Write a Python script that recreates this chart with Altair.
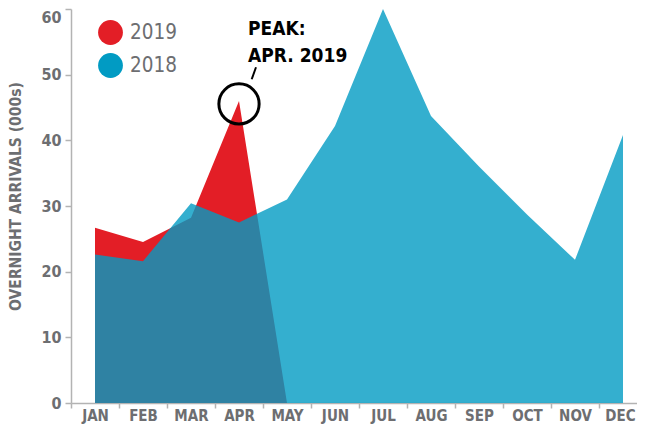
import altair as alt
import pandas as pd

# ---- data ----
months = ["JAN", "FEB", "MAR", "APR", "MAY", "JUN", "JUL", "AUG", "SEP", "OCT", "NOV", "DEC"]
arrivals_2018 = [22.6, 21.6, 30.4, 27.5, 31.0, 42.2, 60.0, 43.7, 36.0, 28.7, 21.8, 40.8]
months_2019 = ["JAN", "FEB", "MAR", "APR", "MAY"]
arrivals_2019 = [26.7, 24.5, 28.2, 46.0, 0.0]
years = ["2019", "2018"]
peak_text = ["PEAK:", "APR. 2019"]
y_ticks = [0, 10, 20, 30, 40, 50, 60]

RED = "#e31e26"
TEAL = "#019bc3"
GRAY = "#6d6e71"
LINE = "#b3b3b3"
FONT = "DejaVu Sans Condensed, Liberation Sans Narrow, sans-serif"

df18 = pd.DataFrame({"month": months, "value": arrivals_2018, "year": "2018"})
df19 = pd.DataFrame({"month": months_2019, "value": arrivals_2019, "year": "2019"})
pk = max(range(len(arrivals_2019)), key=lambda i: arrivals_2019[i])
dfpk = pd.DataFrame({"month": [months_2019[pk]], "value": [arrivals_2019[pk]]})

xenc = alt.X(
    "month:N",
    sort=months,
    scale=alt.Scale(type="band", domain=months, paddingInner=0, paddingOuter=0, range=[0, 576]),
    bandPosition=0.5,
    axis=alt.Axis(
        title=None, tickBand="extent", labelAngle=0, labelFont=FONT, labelFontSize=15,
        labelFontWeight="bold", labelColor=GRAY, tickColor=LINE, domainColor=LINE,
        tickSize=5, tickWidth=1.5, domainWidth=1.5, labelPadding=0, grid=False,
        labelOffset=alt.expr("datum.value == 'DEC' ? -3 : 0"),
    ),
)
yenc = alt.Y(
    "value:Q",
    scale=alt.Scale(domain=[0, 60], nice=False),
    axis=alt.Axis(
        title="OVERNIGHT ARRIVALS (000s)", values=y_ticks, grid=False,
        labelFont=FONT, labelFontSize=16, labelFontWeight="bold", labelColor=GRAY,
        labelBaseline=alt.expr("datum.value == 60 ? 'top' : 'middle'"),
        tickColor=LINE, domainColor=LINE, tickSize=6, tickWidth=1.5, domainWidth=1.5,
        labelPadding=4, titleFont=FONT, titleFontSize=15.5, titleFontWeight="bold",
        titleColor=GRAY, titleAngle=-90, titleX=-56, titleY=187, titleAlign="center",
        titleBaseline="middle",
    ),
)
color = alt.Color(
    "year:N",
    scale=alt.Scale(domain=years, range=[RED, TEAL]),
    legend=alt.Legend(
        orient="none", legendX=27, legendY=11, title=None, symbolType="circle",
        symbolSize=615, symbolStrokeWidth=0, symbolOpacity=1,
        labelFont=FONT, labelFontSize=20.5, labelColor=GRAY, rowPadding=8,
        labelOffset=7, padding=0,
    ),
)

a19 = alt.Chart(df19).mark_area(opacity=1).encode(x=xenc, y=yenc, color=color)
a18 = alt.Chart(df18).mark_area(opacity=0.8).encode(x=xenc, y=yenc, color=color)

ring = alt.Chart(dfpk).mark_point(
    shape="circle", filled=False, size=1620, strokeWidth=3, color="black", opacity=1, yOffset=3
).encode(x=xenc, y=yenc)
leader = alt.Chart(dfpk).mark_rule(
    color="black", strokeWidth=2, xOffset=12.7, yOffset=-21.7, x2Offset=17, y2Offset=-33.7
).encode(x=xenc, y=yenc, x2="month:N", y2="value:Q")
label = alt.Chart(dfpk).mark_text(
    align="left", baseline="alphabetic", dx=9, dy=-65.7, font=FONT, fontSize=19,
    fontWeight="bold", color="black", lineHeight=27,
).encode(x=xenc, y=yenc, text=alt.value(peak_text))

chart = alt.layer(a19, a18, ring, leader, label).properties(
    width=566, height=394,
    autosize=alt.AutoSizeParams(type="none"),
    padding={"left": 63, "top": 1, "right": 0, "bottom": 23},
).configure_view(stroke=None)

chart.save("out.html", embed_options={"renderer": "svg", "actions": False})
